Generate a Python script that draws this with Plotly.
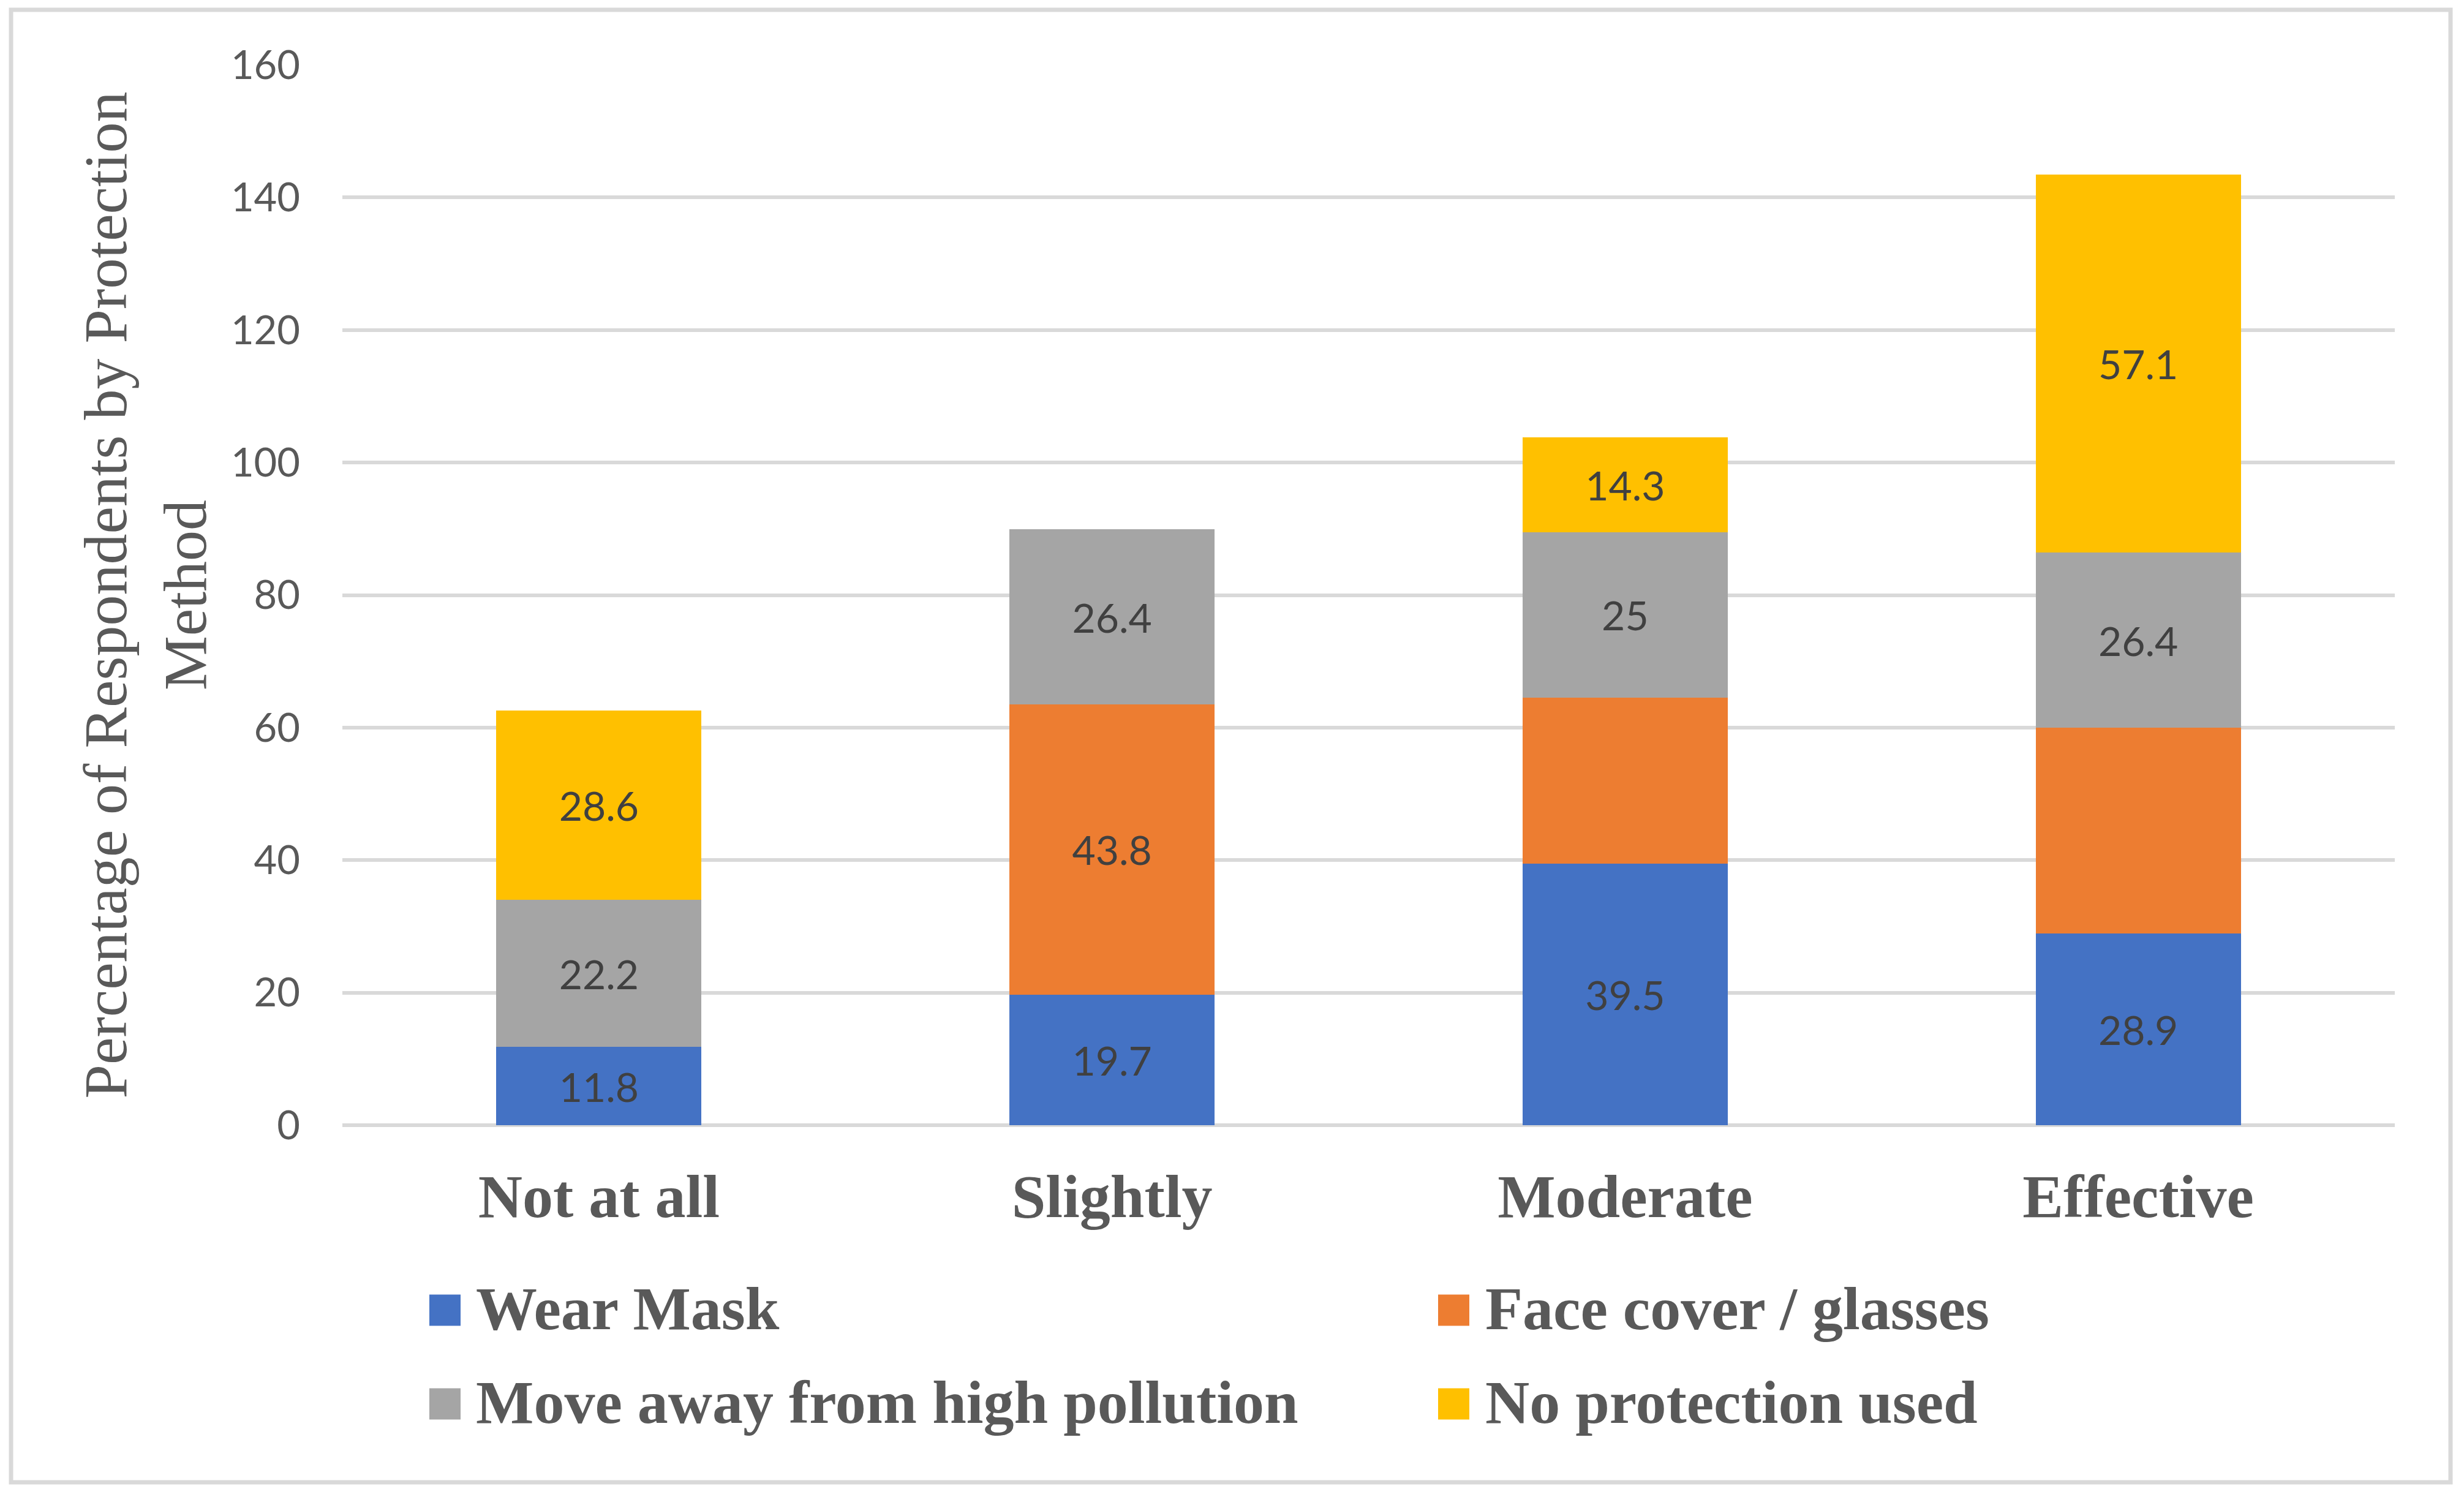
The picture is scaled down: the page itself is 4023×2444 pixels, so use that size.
import plotly.graph_objects as go

# ---------------- data ----------------
categories = ["Not at all", "Slightly", "Moderate", "Effective"]
series_names = ["Wear Mask", "Face cover / glasses", "Move away from high pollution", "No protection used"]
wear_mask = [11.8, 19.7, 39.5, 28.9]
face_cover = [0.0, 43.8, 25.0, 31.1]
move_away = [22.2, 26.4, 25.0, 26.4]
no_protection = [28.6, 0.0, 14.3, 57.1]
# which data labels are visible in the original chart
face_cover_label_shown = [False, True, False, False]
y_ticks = [0, 20, 40, 60, 80, 100, 120, 140, 160]
y_title = "Percentage of Respondents by Protection<br>Method"

colors = ["#4472C4", "#ED7D31", "#A5A5A5", "#FFC000"]

# ---------------- layout geometry ----------------
W, H = 4023, 2444
L, R, T, B = 559, 113, 106, 607
PW, PH = W - L - R, H - T - B


def px_x(px):
    return (px - L) / PW


def px_y(py):
    return (H - B - py) / PH


def labels(values, shown=None):
    out = []
    for i, v in enumerate(values):
        ok = v != 0 and (shown is None or shown[i])
        out.append(f"{v:g}" if ok else "")
    return out


series_values = [wear_mask, face_cover, move_away, no_protection]
series_labels = [labels(wear_mask), labels(face_cover, face_cover_label_shown),
                 labels(move_away), labels(no_protection)]

fig = go.Figure()
for name, vals, txt, col in zip(series_names, series_values, series_labels, colors):
    fig.add_trace(go.Bar(
        x=categories, y=vals, name=name, marker=dict(color=col, line=dict(width=0)),
        text=txt, textposition="inside", insidetextanchor="middle",
        constraintext="none", textangle=0,
        textfont=dict(family="Lato", size=66, color="#404040"),
        showlegend=False, hoverinfo="x+y+name",
    ))

serif = "Liberation Serif"
annotations = []
shapes = []

# manual legend (2 x 2 grid), matching the original large square swatches
legend_cols = [(701, 775), (2348, 2423)]
legend_rows = [2139, 2292]
for i, (name, col) in enumerate(zip(series_names, colors)):
    r, c = divmod(i, 2)
    sx, tx = legend_cols[c]
    cy = legend_rows[r]
    shapes.append(dict(type="rect", xref="paper", yref="paper",
                       x0=px_x(sx), x1=px_x(sx + 51), y0=px_y(cy - 25.5), y1=px_y(cy + 25.5),
                       fillcolor=col, line=dict(width=0)))
    annotations.append(dict(text=name, xref="paper", yref="paper", x=px_x(tx), y=px_y(cy - 3),
                            xanchor="left", yanchor="middle", showarrow=False,
                            font=dict(family=serif, size=100, color="#595959", weight="bold")))

# outer chart border
shapes.append(dict(type="rect", xref="paper", yref="paper",
                   x0=px_x(18), x1=px_x(4001), y0=px_y(2420), y1=px_y(16),
                   line=dict(color="#D9D9D9", width=7), fillcolor="rgba(0,0,0,0)", layer="below"))

fig.update_layout(
    width=W, height=H,
    margin=dict(l=L, r=R, t=T, b=B, autoexpand=False),
    paper_bgcolor="white", plot_bgcolor="white",
    barmode="stack", bargap=0.6,
    showlegend=False,
    xaxis=dict(showgrid=False, showline=False, ticks="", zeroline=False,
               tickfont=dict(family=serif, size=100, color="#595959", weight="bold"),
               ticklabelstandoff=49, automargin=False),
    yaxis=dict(range=[0, 160], tickvals=y_ticks, showgrid=True, gridcolor="#D9D9D9", gridwidth=6,
               zeroline=True, zerolinecolor="#D9D9D9", zerolinewidth=6, showline=False, ticks="",
               tickfont=dict(family="Lato", size=65, color="#595959"),
               ticklabelstandoff=68, automargin=False,
               title=dict(text=y_title, font=dict(family=serif, size=100, color="#595959"),
                          standoff=6)),
    shapes=shapes, annotations=annotations,
)

fig.write_html("out.html", config={"displayModeBar": False},
               post_script="document.body.style.margin='0';")
